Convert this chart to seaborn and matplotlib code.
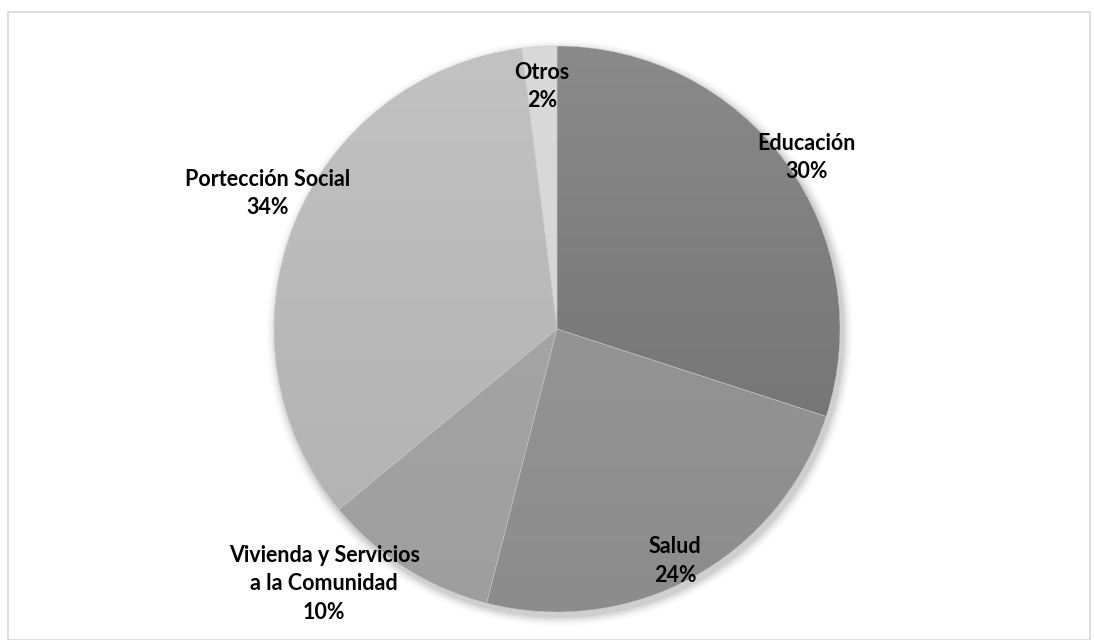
import numpy as np
import matplotlib
matplotlib.use("Agg")
import matplotlib.pyplot as plt
import seaborn as sns
from matplotlib.patches import Rectangle, Circle
from matplotlib.colors import LinearSegmentedColormap

sns.set_theme(style="white")
plt.rcParams['font.family'] = ['Lato', 'DejaVu Sans']

categories = ["Educación", "Salud", "Vivienda y Servicios\na la Comunidad", "Portección Social", "Otros"]
values = [30, 24, 10, 34, 2]
pct_labels = ["30%", "24%", "10%", "34%", "2%"]
top_colors = ["#8a8a8a", "#9c9c9c", "#aaaaaa", "#c2c2c2", "#dadada"]
bottom_colors = ["#6c6c6c", "#8c8c8c", "#9e9e9e", "#b0b0b0", "#d4d4d4"]
label_dist = [1.07, 0.92, 1.22, 1.13, 0.86]
label_dang = [-1.5, -1.8, -10.0, -3.5, 0.0]

W, H = 1094, 640
cx, cy, R = 557, 329, 283
fig = plt.figure(figsize=(W / 100, H / 100), dpi=100)
ax = fig.add_axes([0, 0, 1, 1])
ax.set_xlim(-cx / R, (W - cx) / R)
ax.set_ylim((cy - H) / R, cy / R)
ax.axis("off")

# chart border
fig.patches.append(Rectangle((8 / W, 0), (W - 12) / W, (H - 12) / H,
                             transform=fig.transFigure, fill=False,
                             edgecolor="#d9d9d9", linewidth=1.2))

# soft shadow
for i, a in enumerate(np.linspace(0.05, 0.012, 6)):
    ax.add_patch(Circle((0.01, -0.015), 1.0 + 0.006 * (i + 1), color="black",
                        alpha=a, linewidth=0, zorder=0))

wedges, _ = ax.pie(values, startangle=90, counterclock=False, radius=1.0,
                   colors=top_colors,
                   wedgeprops=dict(edgecolor="#c8c8c8", linewidth=0.3))

grad = np.linspace(0, 1, 256).reshape(-1, 1)
for w, tc, bc in zip(wedges, top_colors, bottom_colors):
    cmap = LinearSegmentedColormap.from_list("g", [tc, bc])
    im = ax.imshow(grad, cmap=cmap, extent=(-1, 1, -1, 1), origin="upper",
                   aspect="auto", zorder=w.get_zorder() + 0.1)
    im.set_clip_path(w)
    w.set_facecolor("none")
    w.set_zorder(w.get_zorder() + 0.2)

ax.set_xlim(-cx / R, (W - cx) / R)
ax.set_ylim((cy - H) / R, cy / R)

for w, cat, pl, d, da in zip(wedges, categories, pct_labels, label_dist, label_dang):
    mid = np.deg2rad((w.theta1 + w.theta2) / 2 + da)
    x, y = d * np.cos(mid), d * np.sin(mid)
    ax.text(x, y, f"{cat}\n{pl}", ha="center", va="center", fontsize=15.5,
            fontweight="bold", color="#000000", linespacing=1.42, zorder=10)

fig.savefig("out.png", dpi=100)
